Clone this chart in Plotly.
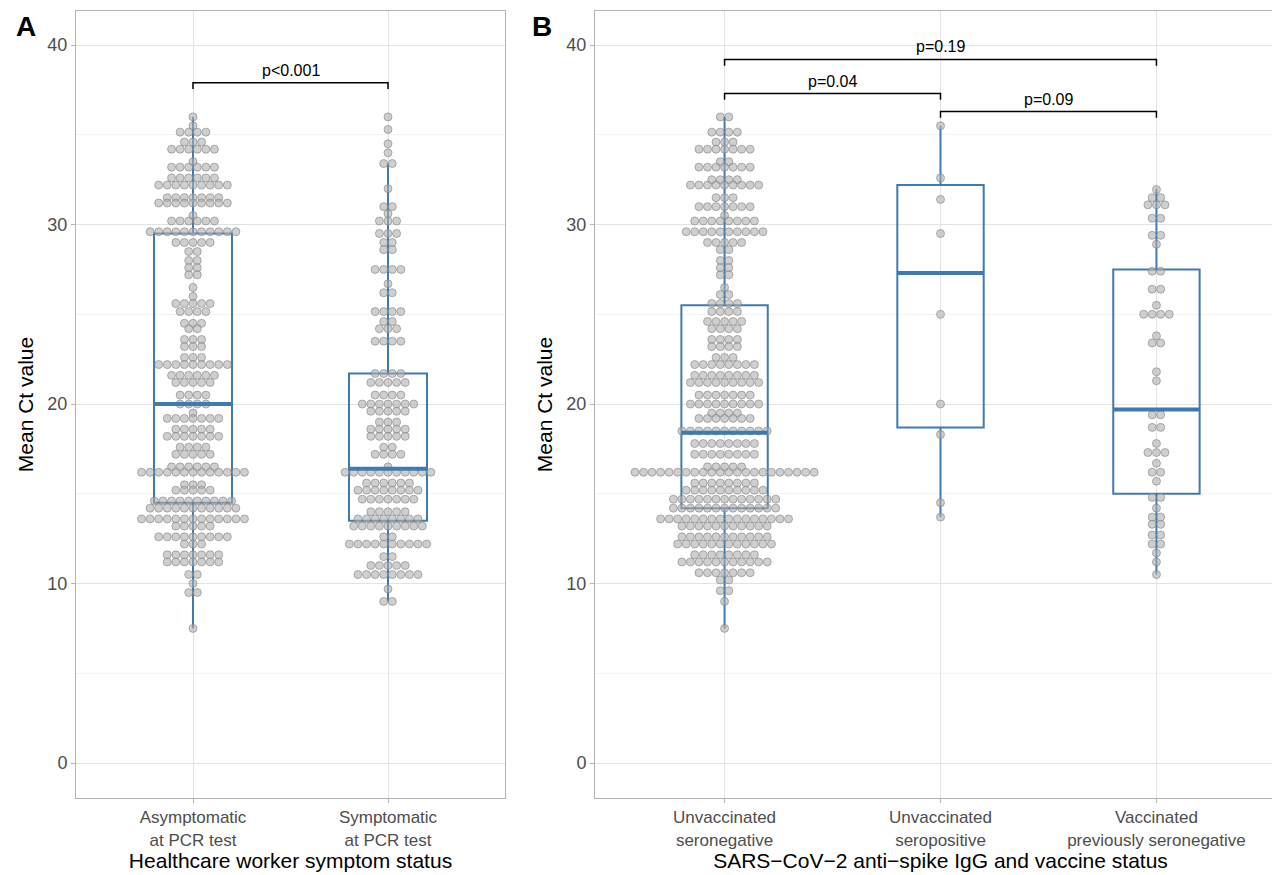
import numpy as np
import plotly.graph_objects as go

# ---- data: (Ct level, number of workers at that level) ----
a1_levels = [36.0,35.5,35.15,34.6,34.2,33.5,33.2,32.6,32.2,31.5,31.2,30.5,30.2,29.6,29.0,28.5,28.0,27.6,27.2,26.5,26.0,25.6,25.15,24.5,24.2,23.6,23.2,22.6,22.2,21.6,21.2,20.5,20.0,19.5,19.2,18.6,18.2,17.6,17.2,16.5,16.2,15.5,15.2,14.6,14.2,13.6,13.2,12.6,12.2,11.6,11.2,10.5,10.0,9.5,7.5]
a1_counts = [1,1,4,3,6,1,6,6,9,7,9,1,6,11,5,2,2,2,2,1,1,5,4,3,2,3,3,3,9,6,5,4,4,1,7,5,7,4,5,6,13,3,5,10,11,13,5,9,3,7,7,2,1,2,1]
a2_levels = [36.0,35.3,34.5,34.0,33.4,32.0,31.0,30.6,30.2,29.5,29.0,28.6,27.5,26.7,26.2,25.15,24.6,24.2,23.5,21.7,21.2,20.5,20.0,19.6,19.0,18.6,18.2,17.6,17.2,16.5,16.2,15.6,15.2,14.7,14.0,13.6,13.2,12.6,12.2,11.5,11.0,10.5,9.7,9.0]
a2_counts = [1,1,1,1,2,1,2,1,3,3,2,2,4,1,2,4,2,3,4,4,5,4,7,5,3,5,5,2,4,1,11,6,8,7,5,8,9,2,10,2,5,8,1,2]
b1_levels = [36.0,35.15,34.6,34.2,33.5,33.2,32.5,32.2,31.5,31.0,30.5,30.2,29.6,29.0,28.6,28.0,27.6,27.2,26.5,26.1,25.6,25.15,24.6,24.2,23.6,23.2,22.6,22.2,21.6,21.2,20.5,20.0,19.5,19.2,18.5,17.8,17.2,16.5,16.2,15.6,15.2,14.7,14.2,13.6,13.2,12.6,12.2,11.6,11.2,10.6,10.2,9.6,9.0,7.5]
b1_counts = [2,4,3,7,2,7,4,9,3,7,1,8,10,5,2,2,2,2,1,2,4,4,5,4,4,4,3,8,8,9,7,9,4,7,11,8,8,5,22,8,10,13,13,16,11,11,12,8,11,7,2,2,1,1]
b2_levels = [35.5,32.6,31.4,29.5,25.0,20.0,18.3,14.5,13.7]
b2_counts = [1,1,1,1,1,1,1,1,1]
b3_levels = [31.95,31.5,31.1,30.35,29.4,28.9,27.4,26.4,25.5,25.0,23.8,23.4,21.8,21.3,19.4,18.7,17.8,17.3,16.7,16.2,15.7,14.8,14.2,13.7,13.3,12.7,12.2,11.7,11.2,10.5]
b3_counts = [1,2,3,2,2,1,2,2,1,4,1,2,1,1,2,2,1,3,1,2,1,2,1,2,2,2,2,1,1,1]

# box statistics (q1, median, q3, lower whisker, upper whisker)
a_cats = ["Asymptomatic<br>at PCR test", "Symptomatic<br>at PCR test"]
b_cats = ["Unvaccinated<br>seronegative", "Unvaccinated<br>seropositive", "Vaccinated<br>previously seronegative"]
a_q1 = [14.5, 13.5]; a_med = [20.0, 16.4]; a_q3 = [29.5, 21.7]; a_lo = [7.5, 9.0]; a_hi = [36.0, 33.4]
b_q1 = [14.2, 18.7, 15.0]; b_med = [18.4, 27.3, 19.7]; b_q3 = [25.5, 32.2, 27.5]; b_lo = [7.5, 13.7, 10.5]; b_hi = [36.0, 35.5, 32.0]

# significance brackets
a_brackets = [(0, 1, 37.9, "p<0.001")]
b_brackets = [(0, 2, 39.2, "p=0.19"), (0, 1, 37.3, "p=0.04"), (1, 2, 36.3, "p=0.09")]

BLUE = "#3E7BB0"
fig = go.Figure()

def swarm(levels, counts, center, step):
    xs, ys = [], []
    for v, n in zip(levels, counts):
        for i in range(n):
            xs.append(center + (i - (n - 1) / 2) * step)
            ys.append(v)
    return xs, ys

def add_panel(groups, cats, q1, med, q3, lo, hi, brackets, xa, ya, step):
    for gi, (lv, ct) in enumerate(groups):
        xs, ys = swarm(lv, ct, gi, step)
        fig.add_trace(go.Scatter(x=xs, y=ys, mode="markers", xaxis=xa, yaxis=ya, showlegend=False,
                                 marker=dict(size=8, color="rgba(175,175,175,0.6)",
                                             line=dict(color="rgba(130,130,130,0.6)", width=1))))
    fig.add_trace(go.Box(x=list(range(len(cats))), q1=q1, median=med, q3=q3, lowerfence=lo, upperfence=hi,
                         xaxis=xa, yaxis=ya, showlegend=False, width=0.4, whiskerwidth=0,
                         line=dict(color=BLUE, width=2), fillcolor="rgba(0,0,0,0)", boxpoints=False,
                         hoverinfo="skip"))
    for gi, m in enumerate(med):
        fig.add_trace(go.Scatter(x=[gi - 0.2, gi + 0.2], y=[m, m], mode="lines", xaxis=xa, yaxis=ya,
                                 showlegend=False, line=dict(color=BLUE, width=4)))
    for (i, j, yb, txt) in brackets:
        fig.add_trace(go.Scatter(x=[i, i, j, j], y=[yb - 0.35, yb, yb, yb - 0.35], mode="lines",
                                 xaxis=xa, yaxis=ya, showlegend=False, line=dict(color="black", width=1.5)))
        fig.add_annotation(x=(i + j) / 2, y=yb, xref=xa, yref=ya, text=txt, showarrow=False,
                           yanchor="bottom", yshift=2, font=dict(size=16, color="black"))

add_panel([(a1_levels, a1_counts), (a2_levels, a2_counts)], a_cats, a_q1, a_med, a_q3, a_lo, a_hi,
          a_brackets, "x", "y", 0.044)
add_panel([(b1_levels, b1_counts), (b2_levels, b2_counts), (b3_levels, b3_counts)], b_cats,
          b_q1, b_med, b_q3, b_lo, b_hi, b_brackets, "x2", "y2", 0.0395)

W, H = 1280, 875
ydom = [1 - 790 / H, 1 - 3 / H]
common_x = dict(showgrid=True, gridcolor="#E3E3E3", showline=True, linecolor="#B3B3B3", mirror=True,
                ticks="outside", ticklen=4, tickcolor="#B3B3B3", zeroline=False,
                tickfont=dict(size=17, color="#4D4D4D"), title_font=dict(size=21, color="black"))
common_y = dict(range=[-1.95, 41.9], dtick=10, showgrid=True, gridcolor="#E3E3E3", showline=True,
                linecolor="#B3B3B3", mirror=True, ticks="outside", ticklen=4, tickcolor="#B3B3B3",
                zeroline=False, tickfont=dict(size=18, color="#4D4D4D"), domain=ydom,
                title=dict(text="Mean Ct value", font=dict(size=21, color="black"), standoff=8),
                minor=dict(tick0=5, dtick=10, showgrid=True, gridcolor="#F3F3F3"))

fig.update_layout(
    width=W, height=H, margin=dict(l=0, r=0, t=0, b=0),
    plot_bgcolor="white", paper_bgcolor="white",
    font=dict(family="Liberation Sans, Arial, sans-serif"),
    xaxis=dict(common_x, domain=[68 / W, 497 / W], range=[-0.6, 1.6], tickvals=[0, 1], ticktext=a_cats,
               title=dict(text="Healthcare worker symptom status", standoff=2)),
    xaxis2=dict(common_x, domain=[587 / W, 1278 / W], range=[-0.6, 2.6], tickvals=[0, 1, 2], ticktext=b_cats,
                title=dict(text="SARS−CoV−2 anti−spike IgG and vaccine status", standoff=2)),
    yaxis=dict(common_y, anchor="x"),
    yaxis2=dict(common_y, anchor="x2"),
)
fig.add_annotation(x=6 / W, y=1 - 1 / H, xref="paper", yref="paper", text="<b>A</b>", showarrow=False,
                   xanchor="left", yanchor="top", font=dict(size=28, color="black"))
fig.add_annotation(x=522 / W, y=1 - 1 / H, xref="paper", yref="paper", text="<b>B</b>", showarrow=False,
                   xanchor="left", yanchor="top", font=dict(size=28, color="black"))

fig.write_html("out.html")
